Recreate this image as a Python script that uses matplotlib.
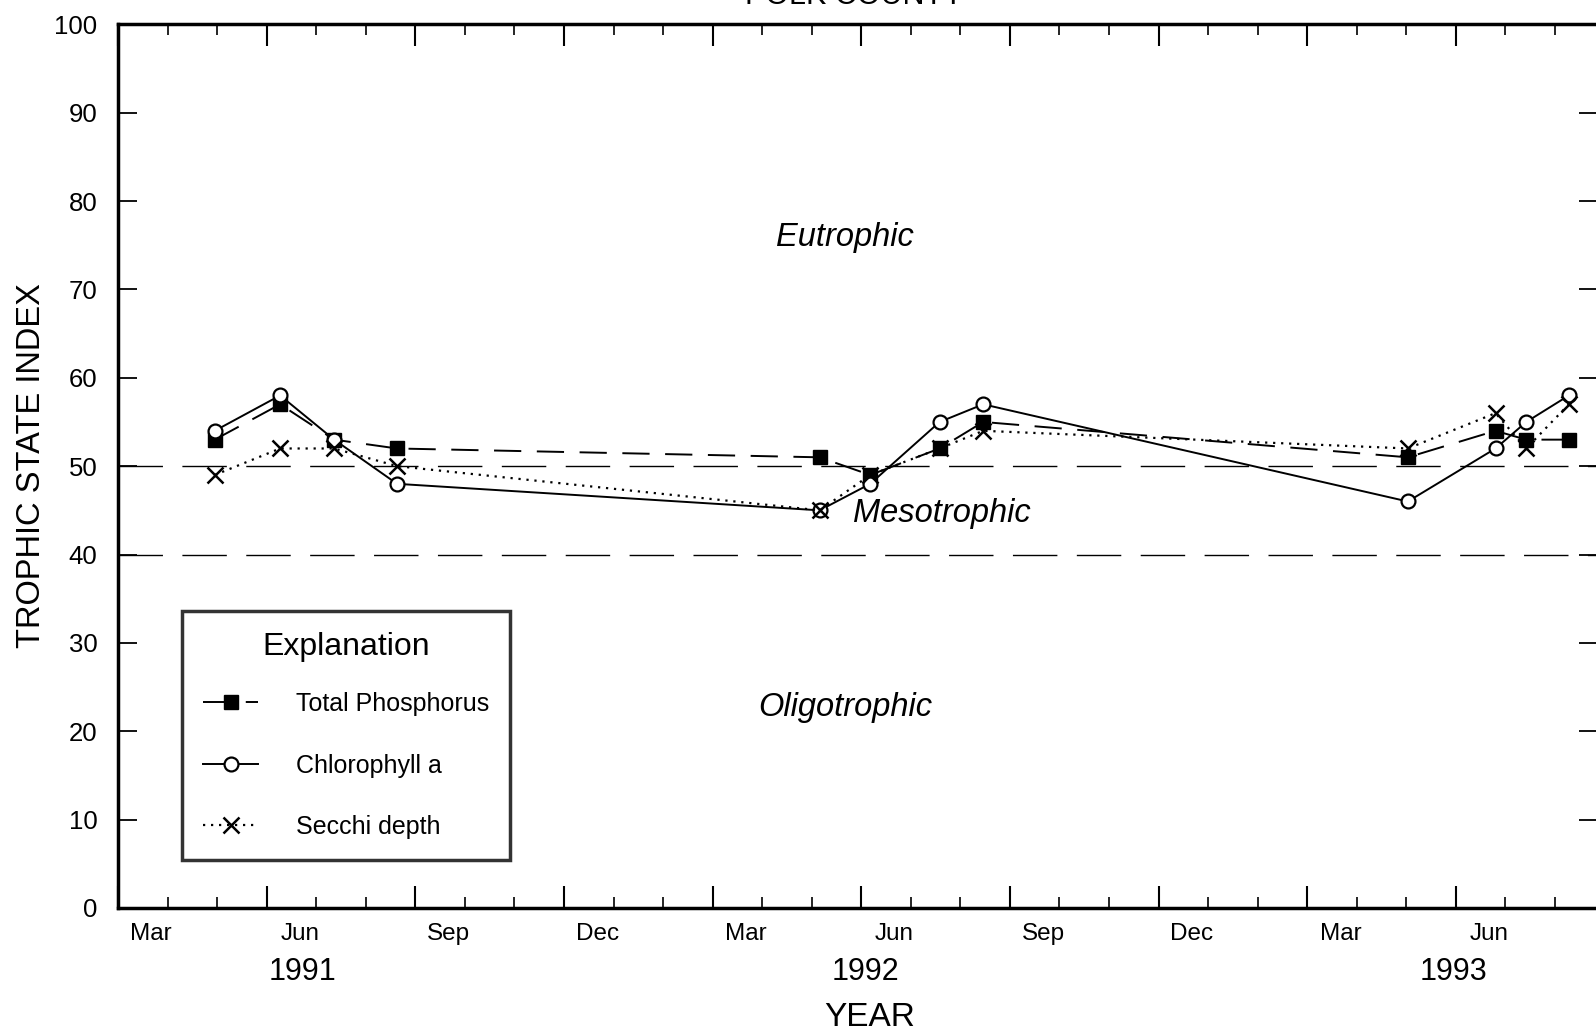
import matplotlib
matplotlib.use("Agg")
import matplotlib.pyplot as plt
import numpy as np

plt.rcParams['font.family'] = ['Liberation Sans', 'DejaVu Sans']

# Sampling dates as months since 1 Mar 1991
sample_month = [1.95, 3.27, 4.36, 5.63, 14.16, 15.18, 16.58, 17.46, 26.03, 27.80, 28.42, 29.28]

total_phosphorus = [53, 57, 53, 52, 51, 49, 52, 55, 51, 54, 53, 53]
chlorophyll_a = [54, 58, 53, 48, 45, 48, 55, 57, 46, 52, 55, 58]
secchi_depth = [49, 52, 52, 50, 45, 49, 52, 54, 52, 56, 52, 57]

month_names = ["Mar", "Jun", "Sep", "Dec", "Mar", "Jun", "Sep", "Dec", "Mar", "Jun"]
year_names = ["1991", "1992", "1993"]
year_pos = [3.72, 15.08, 26.96]

zone_lines = [50, 40]
zone_names = ["Eutrophic", "Mesotrophic", "Oligotrophic"]
zone_pos = [(14.67, 75.9), (16.62, 44.6), (14.67, 22.7)]

fig = plt.figure(figsize=(15.96, 10.32), dpi=100)
ax = fig.add_axes([0.0740, 0.1202, 0.9273, 0.8562])

# trophic class boundaries
for v in zone_lines:
    ax.axhline(v, color='black', lw=1.0, dashes=(32, 14))

ax.plot(sample_month, total_phosphorus, color='black', lw=1.4, dashes=(14, 8),
        marker='s', markersize=10, markerfacecolor='black', label='Total Phosphorus')
ax.plot(sample_month, chlorophyll_a, color='black', lw=1.4, linestyle='-',
        marker='o', markersize=10, markerfacecolor='white', markeredgewidth=1.6,
        label='Chlorophyll a')
ax.plot(sample_month, secchi_depth, color='black', lw=1.6, linestyle=(0, (1, 2.6)),
        marker='x', markersize=11, markeredgewidth=1.8, label='Secchi depth')

for name, (xx, yy) in zip(zone_names, zone_pos):
    ax.text(xx, yy, name, style='italic', fontsize=23.5, ha='center', va='center')

ax.set_xlim(0, 29.87)
ax.set_ylim(0, 100)

ax.set_yticks(np.arange(0, 101, 10))
ax.set_xticks(np.arange(0, 30, 3))
ax.set_xticks(np.arange(0, 30, 1), minor=True)
ax.set_xticklabels([])
ax.tick_params(axis='y', which='major', direction='in', length=14, width=1.3,
               labelsize=18.5, pad=15, right=True)
ax.tick_params(axis='x', which='major', direction='in', length=16, width=1.5,
               top=True, labelbottom=False)
ax.tick_params(axis='x', which='minor', direction='in', length=8, width=1.2, top=True)

# month labels sit in the middle of the month
for i, m in enumerate(month_names):
    ax.text(i * 3 + 0.67, -0.0165, m, transform=ax.get_xaxis_transform(),
            ha='center', va='top', fontsize=17.5)
for y, p in zip(year_names, year_pos):
    ax.text(p, -0.0724, y, transform=ax.get_xaxis_transform(),
            ha='center', va='center', fontsize=22)
ax.text(0.508, -0.1245, "YEAR", transform=ax.transAxes, ha='center', va='center',
        fontsize=24)

for s in ax.spines.values():
    s.set_linewidth(2.5)

fig.text(31.5 / 1596, 0.549, "TROPHIC STATE INDEX", rotation=90,
         ha='center', va='center', fontsize=23.5)
fig.text(0.535, 0.9965, "POLK COUNTY", ha='center', va='baseline', fontsize=22)

leg = ax.legend(loc='upper left', bbox_to_anchor=(0.0432, 0.336), title='Explanation',
                fontsize=18, title_fontsize=23, frameon=True, fancybox=False,
                edgecolor='black', borderpad=0.85, labelspacing=1.5,
                handlelength=2.2, handletextpad=1.5, numpoints=1, borderaxespad=0)
leg.get_frame().set_linewidth(2.5)
leg._legend_box.sep = 21.5  # tighter gap under the title (points)

fig.savefig("out.png", dpi=100)
